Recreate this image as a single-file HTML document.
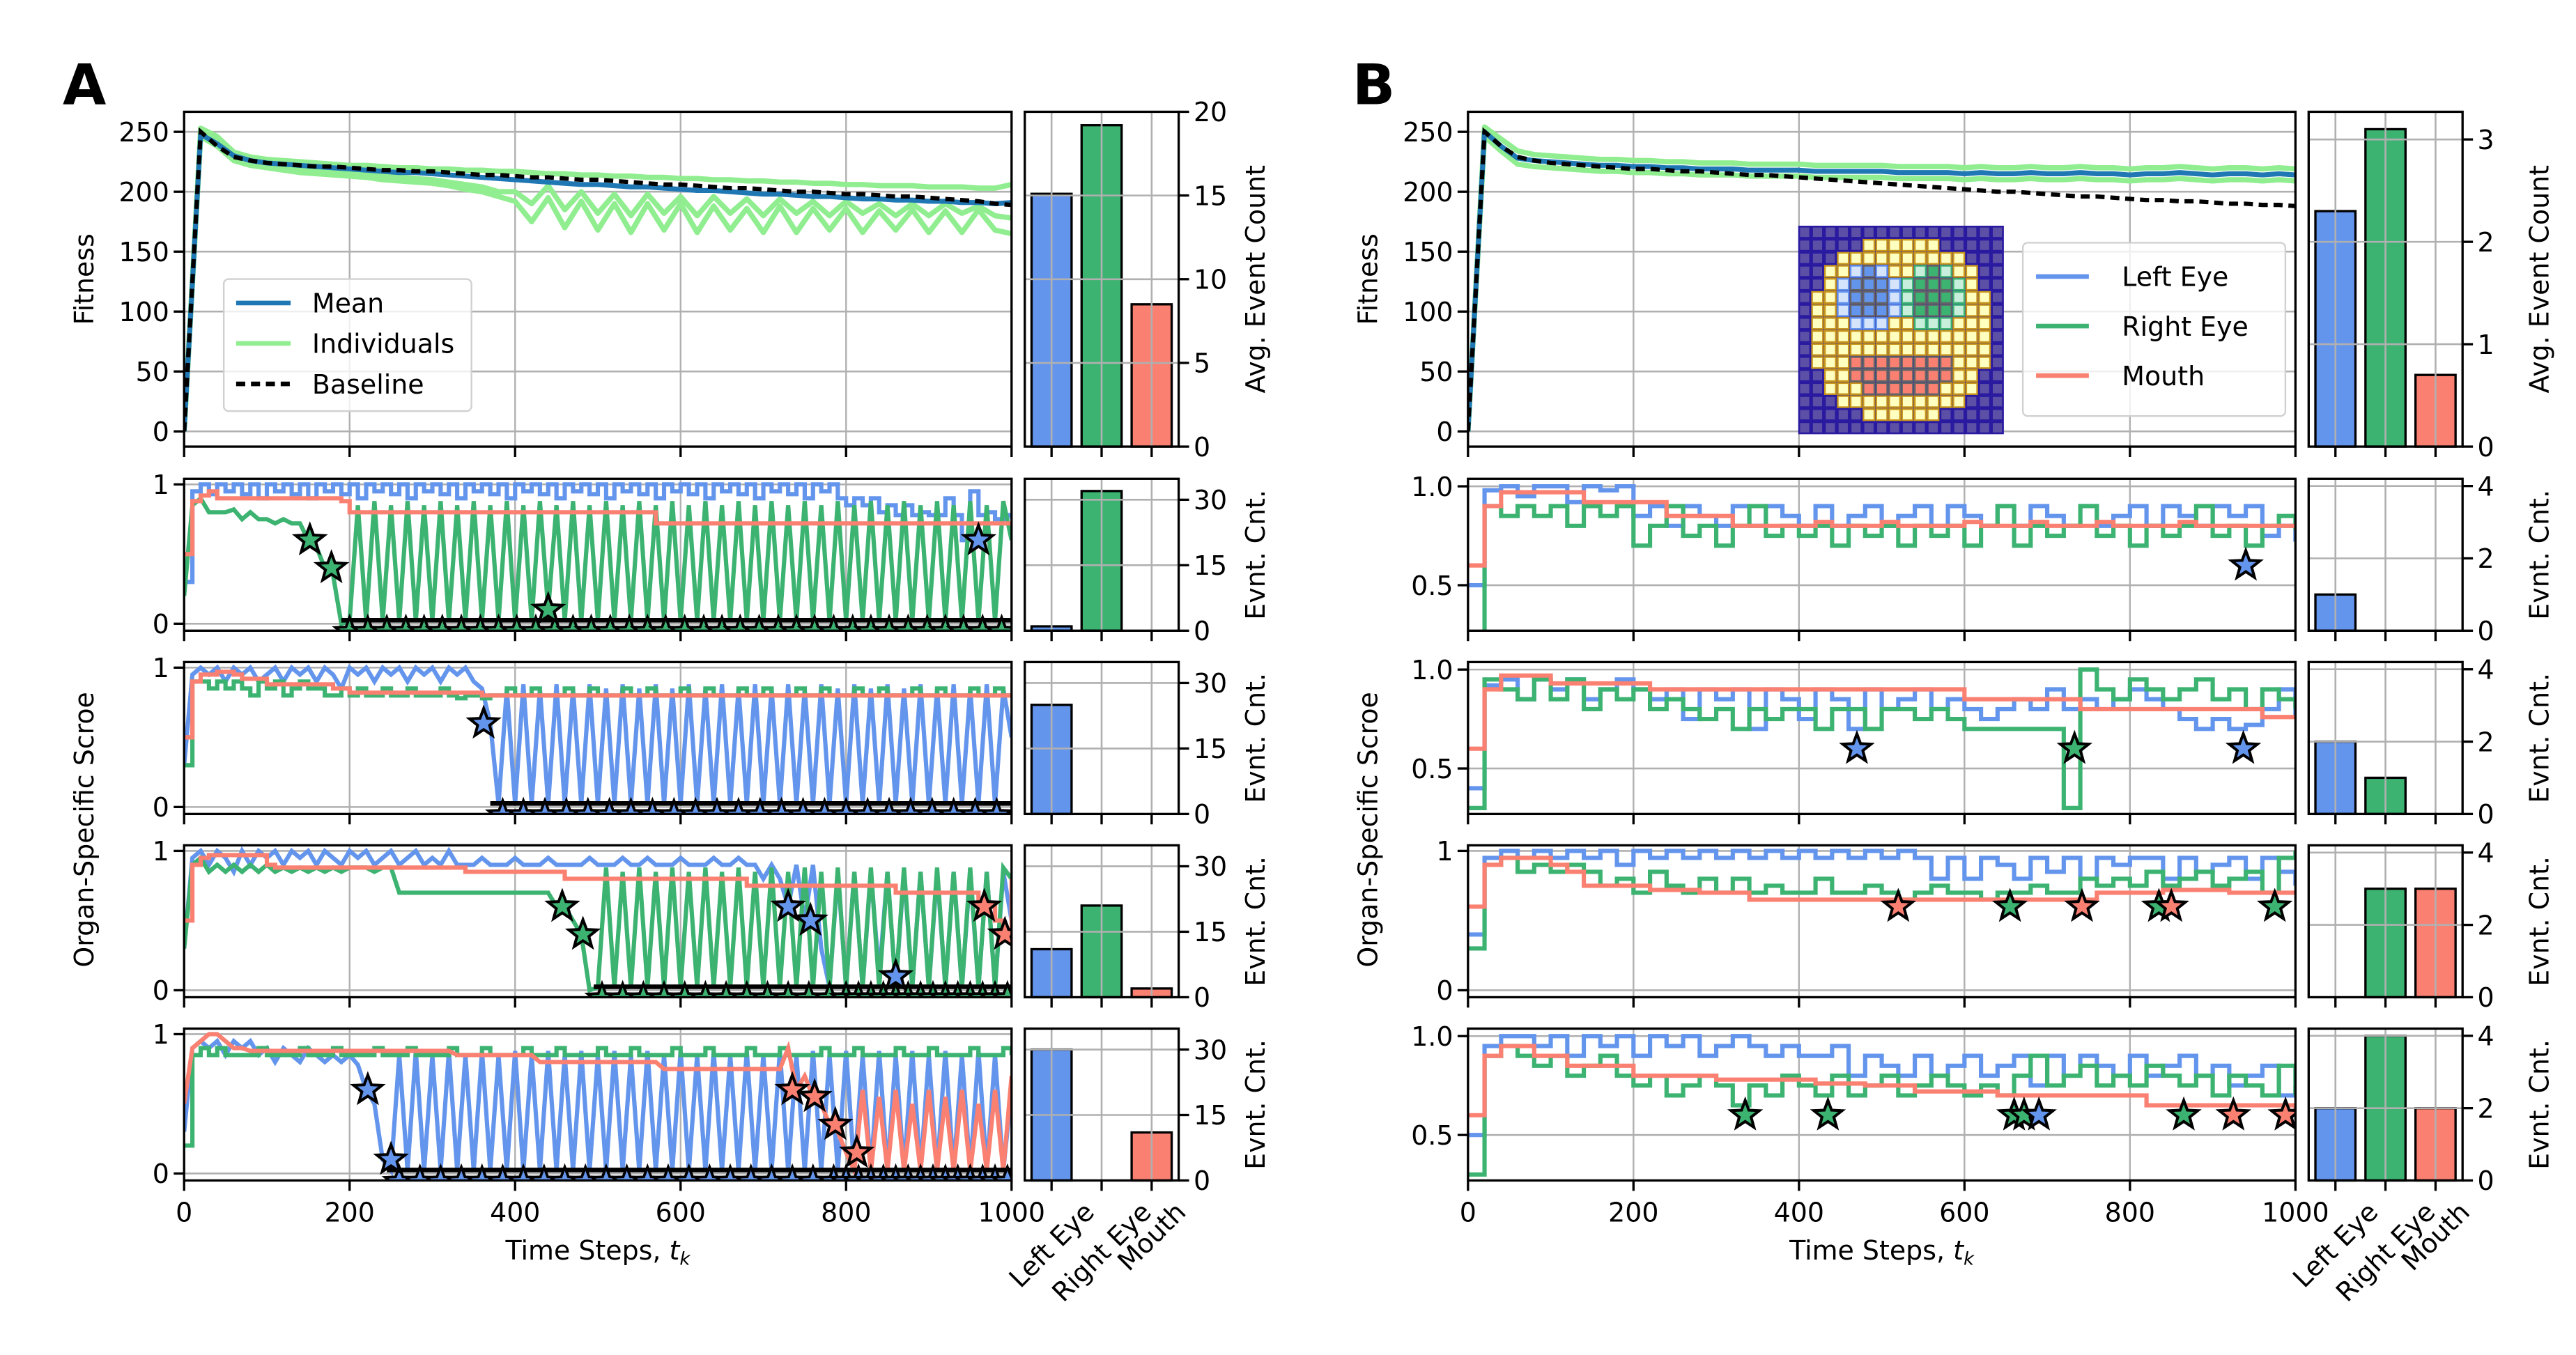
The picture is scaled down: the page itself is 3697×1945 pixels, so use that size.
<!DOCTYPE html>
<html><head><meta charset="utf-8">
<style>
html,body{margin:0;padding:0;background:#fff;}
svg{display:block;}
text{font-family:"DejaVu Sans","Liberation Sans",sans-serif;fill:#000;}
</style></head>
<body>
<svg id="chart" xmlns="http://www.w3.org/2000/svg" width="3697" height="1945" viewBox="0 0 1560 820.7">
<rect x="0" y="0" width="1560" height="820.7" fill="#fff"/>
<text x="38" y="63" font-size="34" font-weight="bold">A</text>
<text x="819" y="63" font-size="34" font-weight="bold">B</text>
</svg>
<script>
// ---------------- DATA ----------------
const organs = ["Left Eye","Right Eye","Mouth"];
const xTicks = [0,200,400,600,800,1000];
const fitTicks = [0,50,100,150,200,250];

// Fitness (sampled every 20 steps)
const fitMeanA = [0,248,240,230,226,224,223,222,221,220,219,218,217,216,216,215,214,213,212,211,210,209,208,207,206,206,205,204,204,203,202,201,201,200,199,198,198,197,196,196,195,194,194,193,193,192,192,191,191,190,191];
const fitBaseA = [0,250,238,229,226,224,223,222,221,221,220,219,218,218,217,217,216,215,214,214,213,212,212,211,210,210,209,208,207,206,206,205,204,203,203,202,201,200,200,199,198,198,197,196,196,195,194,193,192,190,189];
const fitIndA1 = [0,253,246,233,229,227,226,225,224,223,222,222,221,220,220,219,219,218,218,217,217,216,215,215,214,214,213,213,212,212,211,211,210,210,209,209,208,208,207,207,206,206,205,205,205,204,204,204,203,203,206];
const fitIndA2 = [0,246,238,226,222,220,218,216,215,214,213,212,210,209,208,207,205,202,200,196,192,175,195,170,192,168,190,166,190,168,190,166,188,168,186,166,188,166,186,168,186,166,184,168,185,166,184,166,185,168,165];
const fitIndA3 = [0,250,242,228,224,222,221,220,219,218,217,214,213,212,211,210,208,206,204,200,200,190,205,185,200,182,198,180,198,182,196,180,196,182,194,180,194,182,192,180,192,182,190,180,190,180,190,182,188,180,178];
const fitMeanB = [0,250,238,228,226,225,224,223,222,222,221,221,220,220,219,219,219,218,218,218,218,217,217,217,217,217,216,216,216,216,215,216,215,215,216,215,215,216,215,215,214,215,215,216,215,214,215,215,214,215,214];
const fitBaseB = [0,250,238,229,226,224,223,222,221,220,219,219,218,217,217,216,215,214,214,213,212,211,210,209,208,207,206,205,204,203,202,201,200,200,199,198,197,196,196,195,194,193,193,192,192,191,190,190,189,189,188];
const fitIndB1 = [0,254,244,234,231,230,229,228,227,227,226,226,225,225,224,224,224,223,223,223,223,222,222,222,222,222,221,221,221,221,220,221,220,220,221,220,220,221,220,220,219,220,220,221,220,219,220,220,219,220,219];
const fitIndB2 = [0,246,234,223,221,220,219,218,217,217,216,216,215,215,214,214,214,213,213,213,213,212,212,212,212,212,211,211,211,211,210,211,210,210,211,210,210,211,210,210,209,210,210,211,210,209,210,210,209,210,209];

// Average event counts per organ
const avgCountA = [15.1, 19.2, 8.5];
const avgCountB = [2.3, 3.1, 0.7];
const rowCountA = [[1,32,0],[25,0,0],[11,21,2],[30,0,11]];
const rowCountB = [[1,0,0],[2,1,0],[0,3,3],[2,4,2]];

// Organ-specific scores, panel A (sampled every 10 steps)
const blueA1 = [.3,.95,1,.93,1,.95,1,.93,1,.9,1,.95,1,.93,1,.9,1,.95,1,.93,1,.9,1,.95,1,.93,1,.9,1,.95,1,.93,1,.9,1,.95,1,.93,1,.9,1,.95,1,.93,1,.9,1,.95,1,.93,1,.9,1,.95,1,.93,1,.9,1,.95,1,.93,1,.9,1,.95,1,.93,1,.9,1,.95,1,.93,1,.9,1,.95,1,.9,.85,.9,.85,.9,.8,.85,.78,.85,.78,.8,.78,.78,.9,.78,.6,.95,.78,.8,.75,.78,.75];
const greenA1 = [.2,.85,.9,.8,.8,.8,.82,.75,.8,.75,.75,.72,.75,.72,.72,.6,.55,.4,.35,0,.02,.85,.02,.88,.02,.85,.02,.88,.02,.85,.02,.88,.02,.85,.02,.88,.02,.85,.02,.88,.02,.85,.02,.88,.1,.85,.02,.88,.02,.85,.02,.88,.02,.85,.02,.88,.02,.85,.02,.88,.02,.85,.02,.88,.02,.85,.02,.88,.02,.85,.02,.88,.02,.85,.02,.88,.02,.85,.02,.88,.02,.85,.02,.88,.02,.85,.02,.88,.02,.85,.02,.88,.02,.85,.02,.88,.02,.85,.02,.88,.6];
const redA1 = [.5,.88,.92,.95,.9,.9,.9,.9,.9,.9,.9,.9,.9,.9,.9,.9,.9,.9,.9,.88,.8,.8,.8,.8,.8,.8,.8,.8,.8,.8,.8,.8,.8,.8,.8,.8,.8,.8,.8,.8,.8,.8,.8,.8,.8,.8,.8,.8,.8,.8,.8,.8,.8,.8,.8,.8,.8,.72,.72,.72,.72,.72,.72,.72,.72,.72,.72,.72,.72,.72,.72,.72,.72,.72,.72,.72,.72,.72,.72,.72,.72,.72,.72,.72,.72,.72,.72,.72,.72,.72,.72,.72,.72,.72,.72,.72,.72,.72,.72,.72,.72];
const blueA2 = [.3,.95,1,.95,1,.9,1,.95,1,.9,.95,1,.9,1,.95,1,.9,1,.95,.85,1,.95,1,.9,1,.95,1,.9,1,.95,1,.9,1,.95,1,.9,.85,.6,.02,.85,.02,.88,.02,.85,.02,.88,.02,.85,.02,.88,.02,.85,.02,.88,.02,.85,.02,.88,.02,.85,.02,.88,.02,.85,.02,.88,.02,.85,.02,.88,.02,.85,.02,.88,.02,.85,.02,.88,.02,.85,.02,.88,.02,.85,.02,.88,.02,.85,.02,.88,.02,.85,.02,.88,.02,.85,.02,.88,.02,.85,.5];
const greenA2 = [.3,.9,.9,.85,.9,.85,.9,.85,.8,.9,.85,.9,.8,.85,.9,.85,.85,.8,.8,.85,.8,.85,.8,.8,.85,.8,.8,.85,.8,.8,.8,.85,.8,.78,.8,.8,.78,.8,.8,.85,.8,.8,.85,.8,.8,.8,.85,.8,.8,.85,.8,.8,.8,.85,.8,.8,.85,.8,.8,.8,.85,.8,.8,.85,.8,.8,.8,.85,.8,.8,.85,.8,.8,.8,.85,.8,.8,.85,.8,.8,.8,.85,.8,.8,.85,.8,.8,.8,.85,.8,.8,.85,.8,.8,.8,.85,.8,.8,.85,.8,.8];
const redA2 = [.5,.9,.95,.95,.97,.97,.95,.92,.92,.92,.88,.88,.88,.88,.88,.88,.88,.88,.85,.85,.82,.82,.82,.82,.82,.82,.82,.82,.82,.82,.82,.82,.82,.82,.82,.82,.8,.8,.8,.8,.8,.8,.8,.8,.8,.8,.8,.8,.8,.8,.8,.8,.8,.8,.8,.8,.8,.8,.8,.8,.8,.8,.8,.8,.8,.8,.8,.8,.8,.8,.8,.8,.8,.8,.8,.8,.8,.8,.8,.8,.8,.8,.8,.8,.8,.8,.8,.8,.8,.8,.8,.8,.8,.8,.8,.8,.8,.8,.8,.8,.8];
const blueA3 = [.3,.95,1,.9,1,.95,.85,1,.9,1,.95,1,.9,1,.95,1,.9,1,.95,.9,1,.95,1,.9,.95,1,.9,.95,1,.9,.95,.9,1,.9,.9,.9,.95,.9,.9,.9,.95,.9,.9,.9,.95,.9,.9,.9,.9,.95,.9,.9,.9,.95,.9,.9,.95,.9,.9,.9,.95,.9,.9,.9,.95,.9,.9,.95,.9,.9,.8,.9,.8,.6,.9,.5,.9,.3,.02,.85,.02,.85,.02,.85,.1,.85,.02,.85,.02,.85,.02,.85,.02,.85,.02,.85,.02,.85,.02,.85,.5];
const greenA3 = [.3,.9,.95,.85,.9,.85,.9,.85,.9,.85,.9,.85,.88,.85,.88,.85,.88,.85,.88,.85,.88,.88,.88,.85,.88,.88,.7,.7,.7,.7,.7,.7,.7,.7,.7,.7,.7,.7,.7,.7,.7,.7,.7,.7,.7,.6,.6,.5,.4,0,.02,.88,.02,.85,.02,.88,.02,.85,.02,.88,.02,.85,.02,.88,.02,.85,.02,.88,.02,.85,.02,.88,.02,.85,.02,.88,.02,.85,.02,.88,.02,.85,.02,.88,.02,.85,.02,.88,.02,.85,.02,.88,.02,.85,.02,.88,.02,.85,.02,.88,.8];
const redA3 = [.5,.9,.95,.97,.97,.97,.97,.97,.97,.97,.9,.88,.88,.88,.88,.88,.88,.88,.88,.88,.88,.88,.88,.88,.88,.88,.88,.88,.88,.88,.88,.88,.88,.88,.85,.85,.85,.85,.85,.85,.85,.85,.85,.85,.85,.85,.8,.8,.8,.8,.8,.8,.8,.8,.8,.8,.8,.8,.8,.8,.8,.8,.8,.8,.8,.8,.8,.8,.75,.75,.75,.75,.75,.75,.75,.75,.75,.75,.75,.75,.75,.75,.75,.75,.75,.75,.7,.7,.7,.7,.7,.7,.7,.7,.7,.7,.6,.6,.5,.4,.8];
const blueA4 = [.3,.9,.95,.9,.95,.85,.95,.9,.95,.85,.9,.8,.9,.85,.8,.9,.85,.8,.85,.8,.85,.78,.6,.5,.1,.02,.85,.02,.88,.02,.85,.02,.88,.02,.85,.02,.88,.02,.85,.02,.88,.02,.85,.02,.88,.02,.85,.02,.88,.02,.85,.02,.88,.02,.85,.02,.88,.02,.85,.02,.88,.02,.85,.02,.88,.02,.85,.02,.88,.02,.85,.02,.88,.02,.85,.02,.88,.02,.85,.02,.88,.02,.85,.02,.88,.02,.85,.02,.88,.02,.85,.02,.88,.02,.85,.02,.88,.02,.85,.02,.6];
const greenA4 = [.2,.85,.9,.85,.9,.85,.85,.85,.85,.9,.85,.85,.85,.85,.9,.85,.85,.85,.9,.85,.85,.85,.85,.9,.85,.85,.85,.9,.85,.85,.85,.85,.9,.85,.85,.85,.9,.85,.85,.85,.85,.9,.85,.85,.85,.9,.85,.85,.85,.85,.9,.85,.85,.85,.9,.85,.85,.85,.85,.9,.85,.85,.85,.9,.85,.85,.85,.85,.9,.85,.85,.85,.9,.85,.85,.85,.85,.9,.85,.85,.85,.9,.85,.85,.85,.85,.9,.85,.85,.85,.9,.85,.85,.85,.85,.9,.85,.85,.85,.9,.85];
const redA4 = [.5,.9,.95,1,1,.95,.9,.9,.88,.88,.88,.88,.88,.88,.88,.88,.88,.88,.88,.88,.88,.88,.88,.88,.88,.88,.88,.88,.88,.88,.88,.88,.88,.85,.85,.85,.85,.85,.85,.85,.85,.85,.85,.8,.8,.8,.8,.8,.8,.8,.8,.8,.8,.8,.8,.8,.8,.8,.75,.75,.75,.75,.75,.75,.75,.75,.75,.75,.75,.75,.75,.75,.75,.9,.6,.7,.55,.5,.35,.3,.15,.02,.6,.02,.55,.02,.6,.02,.5,.02,.6,.02,.55,.02,.6,.02,.5,.02,.6,.02,.7];

// Organ-specific scores, panel B (sampled every 20 steps)
const blueB1 = [.5,.98,1,.95,1,1,.92,1,.98,1,.85,.9,.8,.9,.85,.8,.9,.8,.9,.85,.8,.9,.8,.85,.9,.8,.85,.9,.8,.9,.85,.8,.9,.8,.9,.85,.8,.9,.8,.85,.9,.8,.9,.85,.8,.9,.85,.9,.75,.8,.72];
const greenB1 = [.2,.9,.85,.9,.85,.9,.8,.9,.85,.9,.7,.8,.9,.75,.8,.7,.8,.9,.75,.8,.75,.8,.7,.8,.75,.8,.7,.8,.75,.8,.7,.8,.9,.7,.8,.75,.8,.9,.75,.8,.7,.8,.75,.8,.9,.75,.8,.7,.8,.85,.78];
const redB1 = [.6,.9,.97,.97,.97,.97,.97,.92,.92,.92,.92,.92,.85,.85,.85,.85,.8,.8,.8,.8,.8,.82,.8,.8,.8,.82,.8,.8,.8,.8,.82,.8,.8,.8,.82,.8,.8,.8,.82,.8,.8,.8,.8,.82,.8,.8,.8,.8,.8,.8,.8];
const blueB2 = [.4,.92,.95,.85,.95,.9,.95,.85,.9,.95,.9,.85,.9,.75,.9,.85,.9,.7,.9,.85,.75,.9,.85,.7,.9,.8,.85,.9,.8,.85,.8,.75,.8,.85,.8,.9,.8,.85,.8,.85,.9,.85,.8,.75,.7,.75,.7,.72,.8,.9,.75];
const greenB2 = [.3,.95,.9,.85,.95,.85,.95,.8,.9,.85,.9,.8,.85,.8,.75,.8,.7,.8,.75,.8,.8,.7,.8,.8,.7,.8,.8,.75,.8,.75,.7,.7,.7,.7,.7,.7,.3,1,.9,.85,.95,.9,.85,.9,.95,.85,.9,.8,.9,.85,.8];
const redB2 = [.6,.9,.97,.97,.97,.93,.93,.93,.93,.93,.93,.9,.9,.9,.9,.9,.9,.9,.9,.9,.9,.9,.9,.9,.9,.9,.9,.9,.9,.9,.85,.85,.85,.85,.85,.85,.85,.8,.8,.8,.8,.8,.8,.8,.8,.8,.8,.8,.76,.76,.76];
const blueB3 = [.4,.95,1,.95,1,.95,1,.95,1,.9,1,.95,1,.95,1,.95,1,.95,1,.95,1,.95,1,.95,1,.95,1,.95,.8,.95,.8,.95,.9,.8,.95,.85,.95,.8,.95,.9,.95,.95,.8,.95,.85,.9,.95,.8,.95,.85,.75];
const greenB3 = [.3,.9,.95,.85,.9,.85,.9,.85,.75,.8,.7,.85,.75,.7,.8,.7,.8,.7,.75,.7,.7,.8,.7,.7,.75,.7,.65,.7,.75,.7,.7,.65,.7,.7,.75,.7,.7,.8,.75,.8,.75,.85,.75,.8,.85,.75,.8,.85,.7,.95,1];
const redB3 = [.6,.9,.95,.95,.95,.9,.85,.75,.75,.75,.75,.72,.72,.72,.7,.7,.7,.65,.65,.65,.65,.65,.65,.65,.65,.65,.65,.65,.65,.65,.65,.65,.65,.65,.65,.65,.65,.65,.7,.7,.7,.7,.72,.72,.72,.72,.7,.7,.7,.7,.7];
const blueB4 = [.5,.95,1,1,.95,1,.9,1,.95,1,.9,1,.95,1,.9,.95,1,.95,.9,.95,.9,.9,.95,.8,.9,.85,.8,.9,.8,.85,.9,.8,.85,.9,.75,.9,.8,.9,.85,.8,.9,.8,.85,.9,.8,.85,.75,.8,.85,.7,.75];
const greenB4 = [.3,.9,.95,.9,.85,.9,.8,.85,.9,.8,.75,.8,.7,.75,.8,.75,.65,.75,.7,.8,.75,.7,.8,.7,.75,.8,.7,.75,.8,.75,.7,.75,.7,.8,.9,.75,.8,.85,.75,.8,.75,.85,.8,.75,.8,.7,.8,.75,.7,.85,.7];
const redB4 = [.6,.9,.95,.95,.9,.9,.85,.85,.85,.85,.8,.8,.8,.8,.8,.78,.78,.78,.78,.78,.78,.76,.76,.76,.75,.75,.75,.72,.72,.72,.72,.72,.7,.7,.7,.7,.7,.7,.7,.7,.7,.65,.65,.65,.65,.65,.65,.65,.65,.65,.6];

// Highlighted events: [time, score, organIndex]
const starsA1 = [[152,.6,1],[178,.4,1],[440,.1,1],[960,.6,0]];
const starsA2 = [[362,.6,0]];
const starsA3 = [[457,.6,1],[482,.4,1],[730,.6,0],[757,.5,0],[860,.1,0],[967,.6,2],[992,.4,2]];
const starsA4 = [[222,.6,0],[250,.1,0],[735,.6,2],[762,.55,2],[787,.35,2],[813,.15,2]];
const starsB1 = [[940,.6,0]];
const starsB2 = [[470,.6,0],[733,.6,1],[937,.6,0]];
const starsB3 = [[520,.6,2],[655,.6,1],[742,.6,2],[835,.6,1],[850,.6,2],[975,.6,1]];
const starsB4 = [[335,.6,1],[435,.6,1],[660,.6,1],[672,.6,1],[690,.6,0],[865,.6,1],[925,.6,2],[988,.6,2]];

// Repeated events (marker trains at bottom of panel A rows)
const trainOrganA = [1,0,1,0];
const trainStartA = [190,370,495,245];
const trainA1 = [200,222,245,268,290,312,335,358,380,402,425,448,470,492,515,538,560,582,605,628,650,672,695,718,740,762,785,808,830,852,875,898,920,942,965,988];
const trainA2 = [385,410,436,462,488,514,540,566,592,618,644,670,696,722,748,774,800,826,852,878,904,930,956,982];
const trainA3 = [505,530,555,580,605,630,655,680,705,730,755,780,800,815,830,845,860,875,890,905,920,935,950,965,980,995];
const trainA4 = [260,285,310,335,360,385,410,435,460,485,510,535,560,585,610,635,660,685,710,735,760,785,800,815,830,845,860,875,890,905,920,935,950,965,980,995];

// Face mask (0 bg,1 yellow,2 light-blue,3 blue,4 light-green,5 green,6 red)
const faceGrid = [
"0000000000000000",
"0000011111100000",
"0001111111111000",
"0011232114541100",
"0012333245554100",
"0112333245554110",
"0112333245554110",
"0111222114441110",
"0111111111111110",
"0111111111111110",
"0111666666661110",
"0011666666661100",
"0011166666611100",
"0001111111111000",
"0000011111100000",
"0000000000000000"];

// ---------------- RENDER ----------------
const NS = "http://www.w3.org/2000/svg";
const svg = document.getElementById('chart');
const COL = ["#6495ed","#3cb371","#fa8072"];
const GRID = "#b0b0b0";
function mk(tag, attrs, parent){
  const e = document.createElementNS(NS, tag);
  for (const k in attrs) e.setAttribute(k, attrs[k]);
  (parent||svg).appendChild(e);
  return e;
}
function scale(d0,d1,p0,p1){ return v => p0 + (v-d0)/(d1-d0)*(p1-p0); }
let clipId = 0;
function clipFor(x0,y0,x1,y1){
  const cp = mk('clipPath',{id:'c'+(++clipId)});
  mk('rect',{x:x0,y:y0,width:x1-x0,height:y1-y0},cp);
  return 'url(#c'+clipId+')';
}
function starPts(cx,cy,R){
  const p=[];
  for(let i=0;i<10;i++){
    const r = i%2===0 ? R : R*0.42;
    const a = -Math.PI/2 + i*Math.PI/5;
    p.push((cx+r*Math.cos(a)).toFixed(2)+','+(cy+r*Math.sin(a)).toFixed(2));
  }
  return p.join(' ');
}
function txt(x,y,s,size,anchor,parent){
  const t = mk('text',{x:x,y:y,'font-size':size,'text-anchor':anchor||'start'},parent);
  t.textContent = s;
  return t;
}

const panels = [
  {key:'a', dx:0,
   fit:{mean:fitMeanA, base:fitBaseA, ind:[fitIndA1,fitIndA2,fitIndA3]},
   avg:avgCountA, avgLim:20, avgTicks:[0,5,10,15,20],
   rows:[[blueA1,greenA1,redA1],[blueA2,greenA2,redA2],[blueA3,greenA3,redA3],[blueA4,greenA4,redA4]],
   rowLim:[[-0.05,1.04],[-0.05,1.04],[-0.05,1.04],[-0.05,1.04]],
   rowTicks:[[[0,'0'],[1,'1']],[[0,'0'],[1,'1']],[[0,'0'],[1,'1']],[[0,'0'],[1,'1']]],
   stars:[starsA1,starsA2,starsA3,starsA4],
   trains:[trainA1,trainA2,trainA3,trainA4],
   steps:false,
   counts:rowCountA, cntLim:34.8, cntTicks:[0,15,30]},
  {key:'b', dx:777.5,
   fit:{mean:fitMeanB, base:fitBaseB, ind:[fitIndB1,fitIndB2]},
   avg:avgCountB, avgLim:3.27, avgTicks:[0,1,2,3],
   rows:[[blueB1,greenB1,redB1],[blueB2,greenB2,redB2],[blueB3,greenB3,redB3],[blueB4,greenB4,redB4]],
   rowLim:[[0.27,1.038],[0.27,1.038],[-0.05,1.04],[0.27,1.038]],
   rowTicks:[[[0.5,'0.5'],[1,'1.0']],[[0.5,'0.5'],[1,'1.0']],[[0,'0'],[1,'1']],[[0.5,'0.5'],[1,'1.0']]],
   stars:[starsB1,starsB2,starsB3,starsB4],
   trains:null,
   steps:true,
   counts:rowCountB, cntLim:4.2, cntTicks:[0,2,4]}
];

const FIT_TOP=67.7, FIT_BOT=270.5;
const ROW_TOPS=[290,401,512,623], ROW_H=92;
const FS=16;

function polyFrom(arr, X, Y){
  const n = arr.length;
  return arr.map((v,i)=> X(i*1000/(n-1)).toFixed(2)+','+Y(v).toFixed(2)).join(' ');
}
function stepFrom(arr, X, Y){
  const n = arr.length, pts=[];
  for (let i=0;i<n;i++){
    const x = X(i*1000/(n-1));
    if (i>0) pts.push(x.toFixed(2)+','+Y(arr[i-1]).toFixed(2));
    pts.push(x.toFixed(2)+','+Y(arr[i]).toFixed(2));
  }
  return pts.join(' ');
}

function drawMainFrame(g, x0,x1,y0,y1, X, Y, yTicks, fmt, name){
  for (const t of xTicks){
    const l = mk('line',{x1:X(t),x2:X(t),y1:y0,y2:y1,stroke:GRID,'stroke-width':1},g);
    
    
  }
  for (const t of yTicks){
    const l = mk('line',{x1:x0,x2:x1,y1:Y(t[0]),y2:Y(t[0]),stroke:GRID,'stroke-width':1.1},g);
    
    
  }
}
function drawSpinesTicks(g, x0,x1,y0,y1, X, Y, yTicks, showXLabels, name){
  const r = mk('rect',{x:x0,y:y0,width:x1-x0,height:y1-y0,fill:'none',stroke:'#000','stroke-width':1.4},g);
  
  
  for (const t of xTicks){
    const l = mk('line',{x1:X(t),x2:X(t),y1:y1,y2:y1+6.3,stroke:'#000','stroke-width':1.4},g);
    
    
    if (showXLabels){
      const tl = txt(X(t), y1+25, String(t), FS, 'middle', g);
      
      
    }
  }
  for (const t of yTicks){
    const l = mk('line',{x1:x0-6.3,x2:x0,y1:Y(t[0]),y2:Y(t[0]),stroke:'#000','stroke-width':1.4},g);
    
    
    const tl = txt(x0-9, Y(t[0])+5.8, t[1], FS, 'end', g);
    
    
  }
}

function drawBars(g, bx0,bx1,y0,y1, values, lim, ticks, showX, name){
  const X = scale(-0.535, 2.54, bx0, bx1);
  const Y = scale(0, lim, y1, y0);
  for (let i=0;i<3;i++){
    if (values[i]<=0) continue;
    const b = mk('rect',{x:X(i-0.4),y:Y(values[i]),width:X(i+0.4)-X(i-0.4),height:Y(0)-Y(values[i]),fill:COL[i],stroke:'#000','stroke-width':1.4},g);
    
    
  }
  for (let i=0;i<3;i++){
    const l = mk('line',{x1:X(i),x2:X(i),y1:y0,y2:y1,stroke:GRID,'stroke-width':1.1},g);
    
    
  }
  for (const t of ticks){
    const l = mk('line',{x1:bx0,x2:bx1,y1:Y(t),y2:Y(t),stroke:GRID,'stroke-width':1.1},g);
    
    
  }
  const r = mk('rect',{x:bx0,y:y0,width:bx1-bx0,height:y1-y0,fill:'none',stroke:'#000','stroke-width':1.4},g);
  
  
  for (let i=0;i<3;i++){
    const l = mk('line',{x1:X(i),x2:X(i),y1:y1,y2:y1+6.3,stroke:'#000','stroke-width':1.4},g);
    
    
  }
  for (const t of ticks){
    const l = mk('line',{x1:bx1,x2:bx1+6.3,y1:Y(t),y2:Y(t),stroke:'#000','stroke-width':1.4},g);
    
    
    const tl = txt(bx1+9, Y(t)+5.8, String(t), FS, 'start', g);
    
    
  }
  if (showX){
    for (let i=0;i<3;i++){
      const t = txt(0,0,organs[i],FS,'middle',g);
      
      
      const w = t.getComputedTextLength();
      const cy = y1 + 12 + (w+12)*0.3536;
      t.setAttribute('x', X(i));
      t.setAttribute('y', cy);
      t.setAttribute('dominant-baseline','central');
      t.setAttribute('transform','rotate(-45 '+X(i)+' '+cy+')');
    }
  }
}

for (const P of panels){
  const g = mk('g',{});
  
  
  const x0 = 111.5 + P.dx, x1 = 612.6 + P.dx;
  const bx0 = 620.6 + P.dx, bx1 = 713.8 + P.dx;
  const X = scale(0,1000,x0,x1);

  // ---- Fitness axes ----
  const fg = mk('g',{},g);
  
  
  const FY = scale(-12.7,266.7,FIT_BOT,FIT_TOP);
  const fTicks = fitTicks.map(v=>[v,String(v)]);
  drawMainFrame(fg,x0,x1,FIT_TOP,FIT_BOT,X,FY,fTicks,'','fitness');
  const clipF = clipFor(x0,FIT_TOP,x1,FIT_BOT);
  const fl = mk('g',{'clip-path':clipF},fg);
  
  
  for (const ind of P.fit.ind){
    const pl = mk('polyline',{points:polyFrom(ind,X,FY),fill:'none',stroke:'#90ee90','stroke-width':3.2,'stroke-linejoin':'round'},fl);
    
    
  }
  const pm = mk('polyline',{points:polyFrom(P.fit.mean,X,FY),fill:'none',stroke:'#1f77b4','stroke-width':3,'stroke-linejoin':'round'},fl);
  
  
  const pb = mk('polyline',{points:polyFrom(P.fit.base,X,FY),fill:'none',stroke:'#000','stroke-width':2.6,'stroke-dasharray':'5.5,3.5'},fl);
  
  
  drawSpinesTicks(fg,x0,x1,FIT_TOP,FIT_BOT,X,FY,fTicks,false,'fitness');

  const fyl = txt(0,0,'Fitness',FS,'middle',g);
  fyl.setAttribute('transform','translate('+(x0-55)+','+((FIT_TOP+FIT_BOT)/2)+') rotate(-90)');
  
  

  const ag = mk('g',{},g);
  
  
  drawBars(ag,bx0,bx1,FIT_TOP,FIT_BOT,P.avg,P.avgLim,P.avgTicks,false,'avg-count');
  const ayl = txt(0,0,'Avg. Event Count',FS,'middle',g);
  ayl.setAttribute('transform','translate('+(bx1+52)+','+((FIT_TOP+FIT_BOT)/2)+') rotate(-90)');
  
  

  // ---- Organ rows ----
  for (let r=0;r<4;r++){
    const y0 = ROW_TOPS[r], y1 = y0+ROW_H;
    const rg = mk('g',{},g);
    
    
    const Y = scale(P.rowLim[r][0],P.rowLim[r][1],y1,y0);
    drawMainFrame(rg,x0,x1,y0,y1,X,Y,P.rowTicks[r],'','row');
    const cl = mk('g',{'clip-path':clipFor(x0,y0,x1,y1)},rg);
    
    
    for (let k=0;k<3;k++){
      const arr = P.rows[r][k];
      const osc = !P.steps && ((P.trains && trainOrganA[r]===k) || (r===3 && k===2) || (r===2 && k===0));
      const pts = osc ? polyFrom(arr,X,Y) : stepFrom(arr,X,Y);
      const pl = mk('polyline',{points:pts,fill:'none',stroke:COL[k],'stroke-width':2.6,'stroke-linejoin':'miter'},cl);
      
      
    }
    if (P.trains){
      const tr = P.trains[r];
      const bl = mk('line',{x1:X(trainStartA[r]),x2:x1,y1:Y(0.025),y2:Y(0.025),stroke:'#000','stroke-width':2.8},cl);
      
      
      for (const t of tr){
        const s = mk('polygon',{points:starPts(X(t),Y(-0.06),9),fill:COL[trainOrganA[r]],stroke:'#000','stroke-width':1.6},cl);
        
        
      }
    }
    for (const st of P.stars[r]){
      const s = mk('polygon',{points:starPts(X(st[0]),Y(st[1]),9),fill:COL[st[2]],stroke:'#000','stroke-width':1.7},cl);
      
      
    }
    drawSpinesTicks(rg,x0,x1,y0,y1,X,Y,P.rowTicks[r],r===3,'row');

    const cg = mk('g',{},g);
    
    
    drawBars(cg,bx0,bx1,y0,y1,P.counts[r],P.cntLim,P.cntTicks,r===3,'event-count');
    const cyl = txt(0,0,'Evnt. Cnt.',FS,'middle',g);
    cyl.setAttribute('transform','translate('+(bx1+52)+','+((y0+y1)/2)+') rotate(-90)');
    
    
  }
  const oyl = txt(0,0,'Organ-Specific Scroe',FS,'middle',g);
  oyl.setAttribute('transform','translate('+(x0-55)+','+((ROW_TOPS[0]+ROW_TOPS[3]+ROW_H)/2)+') rotate(-90)');
  
  

  const xl = mk('text',{x:(x0+x1)/2,y:ROW_TOPS[3]+ROW_H+48,'font-size':FS,'text-anchor':'middle'},g);
  
  
  xl.innerHTML = 'Time Steps, <tspan font-style="italic">t</tspan><tspan font-style="italic" font-size="11" dy="3">k</tspan>';
}

// ---- Legend A ----
(function(){
  const g = mk('g',{});
  
  
  const bg = mk('rect',{x:135.5,y:169,width:150,height:80,rx:3,fill:'#fff','fill-opacity':0.8,stroke:'#d0d0d0','stroke-width':1},g);
  
  
  const items = [['Mean','#1f77b4',null],['Individuals','#90ee90',null],['Baseline','#000','5.5,3.5']];
  const ys = [183.5,208,232.5];
  for (let i=0;i<3;i++){
    const a = {x1:143,x2:176,y1:ys[i],y2:ys[i],stroke:items[i][1],'stroke-width':2.8};
    if (items[i][2]) a['stroke-dasharray']=items[i][2];
    const l = mk('line',a,g);
    
    
    const t = txt(189,ys[i]+5.8,items[i][0],FS,'start',g);
    
    
  }
})();

// ---- Face inset B ----
(function(){
  const g = mk('g',{});
  
  
  const ix=1089, iy=136.7, cw=124.5/16, ch=126.3/16;
  const bg = mk('rect',{x:ix,y:iy,width:124.5,height:126.3,fill:'#2a1aa0'},g);
  
  
  const fills = ['#5b4fa6','#ffffc0','#d6e4fb','#6495ed','#c8eedc','#3cb371','#fa8072'];
  const strokes = ['#2a1aa0','#c8961a','#6495ed','#666','#3cb371','#666','#666'];
  for (let r=0;r<16;r++){
    for (let c=0;c<16;c++){
      const k = +faceGrid[r][c];
      const cell = mk('rect',{x:ix+c*cw+0.6,y:iy+r*ch+0.6,width:cw-1.2,height:ch-1.2,fill:fills[k],stroke:strokes[k],'stroke-width':1},g);
      
      
    }
  }
  const lg = mk('g',{});
  
  
  const box = mk('rect',{x:1225,y:147,width:159,height:105,rx:3,fill:'#fff','fill-opacity':0.8,stroke:'#d0d0d0','stroke-width':1},lg);
  
  
  const ys=[167.5,197.5,227.5];
  for (let i=0;i<3;i++){
    const l = mk('line',{x1:1233,x2:1265,y1:ys[i],y2:ys[i],stroke:COL[i],'stroke-width':2.8},lg);
    
    
    const t = txt(1285,ys[i]+5.8,organs[i],FS,'start',lg);
    
    
  }
})();
</script>
</body></html>
